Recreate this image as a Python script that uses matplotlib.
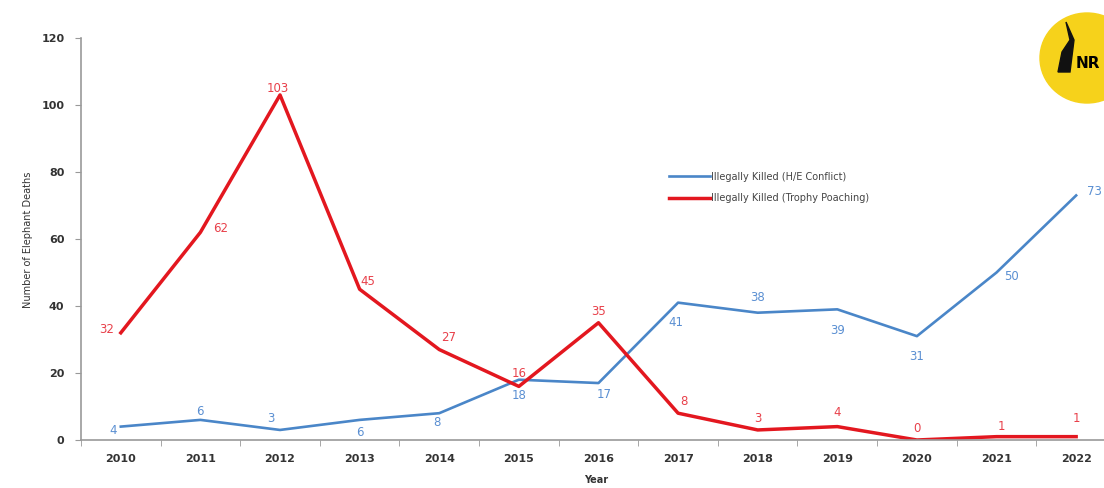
import matplotlib.pyplot as plt
from matplotlib.patches import Ellipse, Polygon

# elephant deaths by year
years = [2010, 2011, 2012, 2013, 2014, 2015, 2016, 2017, 2018, 2019, 2020, 2021, 2022]
conflict = [4, 6, 3, 6, 8, 18, 17, 41, 38, 39, 31, 50, 73]
poaching = [32, 62, 103, 45, 27, 16, 35, 8, 3, 4, 0, 1, 1]

# label offsets in pixels (style only)
blue_off = [(-8, -4), (-1, 8), (-9, 11), (0, -13), (-2, -9), (0, -16), (6, -11),
            (-2, -20), (0, 15), (0, -21), (0, -20), (15, -4), (18, 4)]
red_off = [(-14, 3), (20, 4), (-2, 6), (8, 8), (9, 12), (0, 13), (0, 11),
           (6, 12), (0, 11), (0, 14), (0, 11), (5, 10), (0, 18)]

blue = '#4a86c8'
red = '#e3171f'

fig = plt.figure(figsize=(11.04, 4.88), dpi=100)
ax = fig.add_axes([81/1104, 1-440/488, (1104-81)/1104, (440-38)/488])

ax.plot(years, conflict, color=blue, lw=1.9, label='Illegally Killed (H/E Conflict)')
ax.plot(years, poaching, color=red, lw=2.5, label='Illegally Killed (Trophy Poaching)')

for x, v, o in zip(years, conflict, blue_off):
    ax.annotate(str(v), (x, v), xytext=o, textcoords='offset pixels',
                ha='center', va='center', fontsize=8.5, color='#5a8fd2')
for x, v, o in zip(years, poaching, red_off):
    ax.annotate(str(v), (x, v), xytext=o, textcoords='offset pixels',
                ha='center', va='center', fontsize=8.5, color='#e8404a')

ax.set_xlim(2009.52, 2022.35)
ax.set_ylim(0, 120)
ax.set_yticks(range(0, 121, 20))
ax.set_xticks(years)
ax.set_xticks([y + 0.5 for y in years[:-1]] + [2009.5], minor=True)
ax.tick_params(axis='x', which='major', length=0, pad=10)
ax.tick_params(axis='x', which='minor', length=4, color='#999999')
ax.tick_params(axis='y', length=4, color='#999999', pad=8)
for lab in ax.get_xticklabels() + ax.get_yticklabels():
    lab.set_fontsize(8)
    lab.set_fontweight('bold')
    lab.set_color('#333333')

for s in ['top', 'right']:
    ax.spines[s].set_visible(False)
for s in ['left', 'bottom']:
    ax.spines[s].set_color('#999999')
    ax.spines[s].set_linewidth(1.2)

fig.text(596/1104, 1-480/488, 'Year', ha='center', va='center',
         fontsize=7, fontweight='bold', color='#333333')
fig.text(28/1104, 1-240/488, 'Number of Elephant Deaths', rotation=90,
         ha='center', va='center', fontsize=7, color='#333333')

ax.legend(loc='upper left', bbox_to_anchor=(660/1104, 1-163/488),
          bbox_transform=fig.transFigure, frameon=False, fontsize=7,
          handlelength=4.2, handletextpad=0.1, labelspacing=1.2,
          labelcolor='#444444')

# logo
fig.add_artist(Ellipse((1087/1104, 1-58/488), 94/1104, 90/488,
                       transform=fig.transFigure, color='#f6d21b', zorder=5))
fig.add_artist(Polygon([(1058/1104, 1-72/488), (1062/1104, 1-52/488),
                        (1070/1104, 1-40/488), (1066/1104, 1-22/488),
                        (1074/1104, 1-40/488), (1072/1104, 1-56/488),
                        (1070/1104, 1-72/488)],
                       closed=True, transform=fig.transFigure,
                       color='#111111', zorder=6))
fig.text(1076/1104, 1-64/488, 'NR', ha='left', va='center', fontsize=11,
         fontweight='bold', color='black', zorder=6)

fig.savefig('out.png', dpi=100)
